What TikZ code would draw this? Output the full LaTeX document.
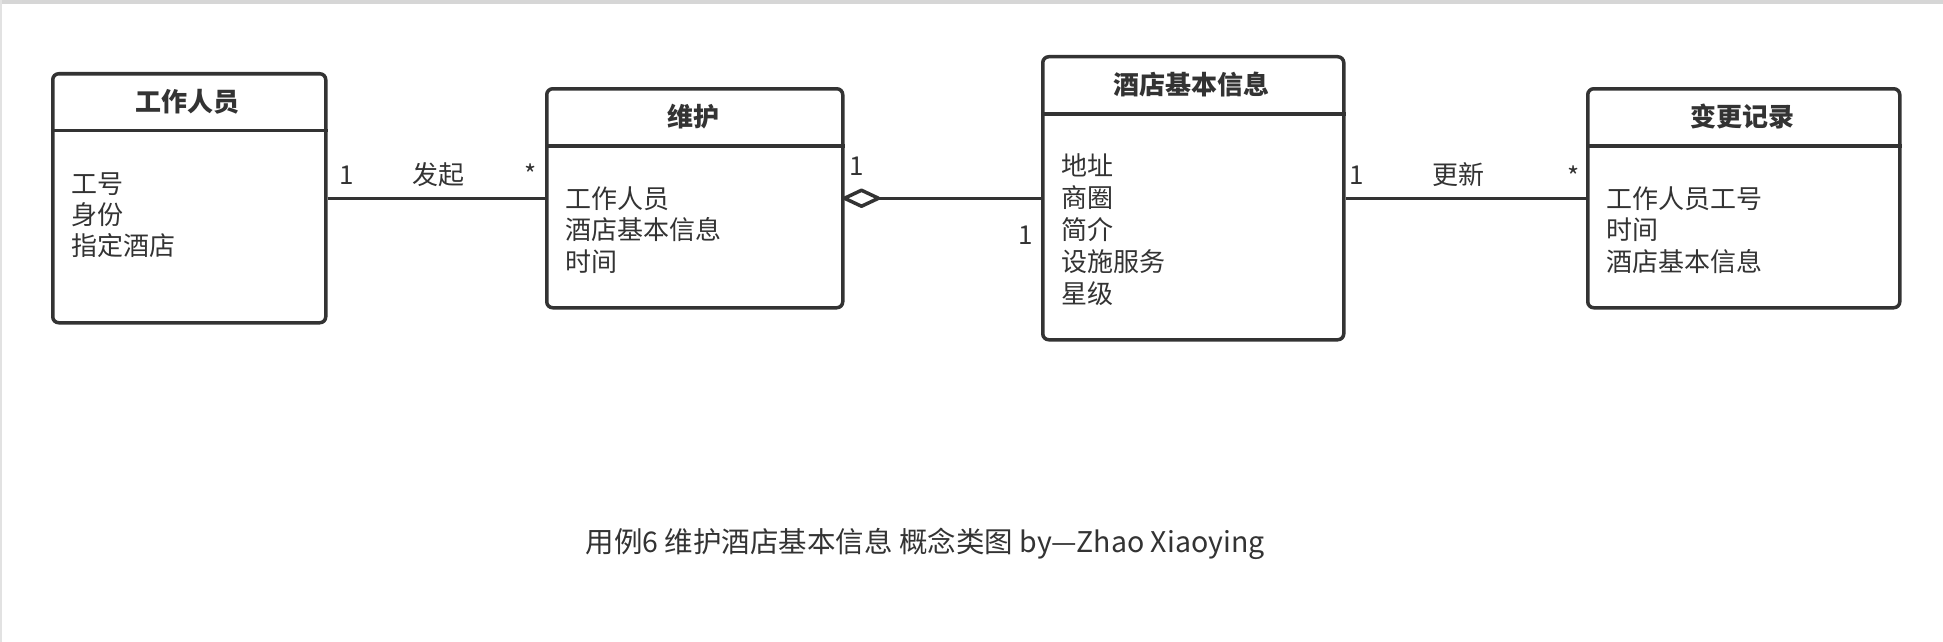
\documentclass[tikz,border=0pt]{standalone}
\usepackage{fontspec}
\setmainfont{Noto Sans CJK SC}
\definecolor{ink}{HTML}{333333}
\definecolor{edge}{HTML}{D6D6D6}
\begin{document}
\begin{tikzpicture}[x=1pt,y=-1pt,
  box/.style={draw=ink, line width=3.5pt, rounded corners=6pt, inner sep=0pt, anchor=north west},
  sepline/.style={draw=ink, line width=3.5pt},
  conn/.style={draw=ink, line width=3.5pt},
  txt/.style={text=ink, inner sep=0pt, font=\fontsize{26}{31.5}\selectfont},
  head/.style={txt, font=\fontsize{26}{31.5}\selectfont\bfseries},
  attr/.style={txt, anchor=base west},
  lab/.style={txt, anchor=base},
  captxt/.style={text=ink, inner sep=0pt, anchor=base, font=\fontsize{28.5}{34}\selectfont}]
\useasboundingbox (0,0) rectangle (1943,642);
\fill[white] (0,0) rectangle (1943,642);
\fill[edge] (0,0) rectangle (1943,4);
\fill[edge!70] (0,0) rectangle (2,642);

% boxes
\node[box, minimum width=273pt, minimum height=249pt] (b1) at (51,72) {};
\node[box, minimum width=296pt, minimum height=219pt] (b2) at (545,87) {};
\node[box, minimum width=301pt, minimum height=283pt] (b3) at (1041,55) {};
\node[box, minimum width=312pt, minimum height=219pt] (b4) at (1586,87) {};

% separators
\draw[sepline] ([yshift=-58.7pt]b1.north west) -- ([yshift=-58.7pt]b1.north east);
\draw[sepline] ([yshift=-59pt]b2.north west) -- ([yshift=-59pt]b2.north east);
\draw[sepline] ([yshift=-59pt]b3.north west) -- ([yshift=-59pt]b3.north east);
\draw[sepline] ([yshift=-59pt]b4.north west) -- ([yshift=-59pt]b4.north east);

% headers
\node[head] (h1) at (187.5,102) {工作人员};
\node[head] (h2) at (693,117) {维护};
\node[head] (h3) at (1191.5,85) {酒店基本信息};
\node[head] (h4) at (1742,117) {变更记录};

% attributes
\node[attr] (a11) at (71,193) {工号};
\node[attr] (a12) at (71,224) {身份};
\node[attr] (a13) at (71,255) {指定酒店};

\node[attr] (a21) at (565,208) {工作人员};
\node[attr] (a22) at (565,239.5) {酒店基本信息};
\node[attr] (a23) at (565,271) {时间};

\node[attr] (a31) at (1061,175) {地址};
\node[attr] (a32) at (1061,207) {商圈};
\node[attr] (a33) at (1061,239) {简介};
\node[attr] (a34) at (1061,271) {设施服务};
\node[attr] (a35) at (1061,303) {星级};

\node[attr] (a41) at (1606,208) {工作人员工号};
\node[attr] (a42) at (1606,239.5) {时间};
\node[attr] (a43) at (1606,271) {酒店基本信息};

% connectors
\draw[conn] (b1.east) -- (b2.west);
\coordinate (dtip) at ([xshift=34pt]b2.east);
\draw[conn] (dtip) -- (b3.west);
\draw[conn, fill=white, line join=round] (b2.east) -- ++(17,-8) -- (dtip) -- ++(-17,8) -- cycle;
\draw[conn] (b3.east) -- (b4.west);

% labels
\node[lab] (m1) at (347,184) {1};
\node[lab] (r1) at (438.5,184) {发起};
\node[lab] (n1) at (531,184) {*};

\node[lab] (m2) at (857,175) {1};
\node[lab] (m3) at (1026,244) {1};

\node[lab] (m4) at (1357,184) {1};
\node[lab] (r2) at (1458,184) {更新};
\node[lab] (n2) at (1574,186) {*};

% caption
\node[captxt] (cap) at (925,552) {用例6 维护酒店基本信息 概念类图 by—Zhao Xiaoying};
\end{tikzpicture}
\end{document}
